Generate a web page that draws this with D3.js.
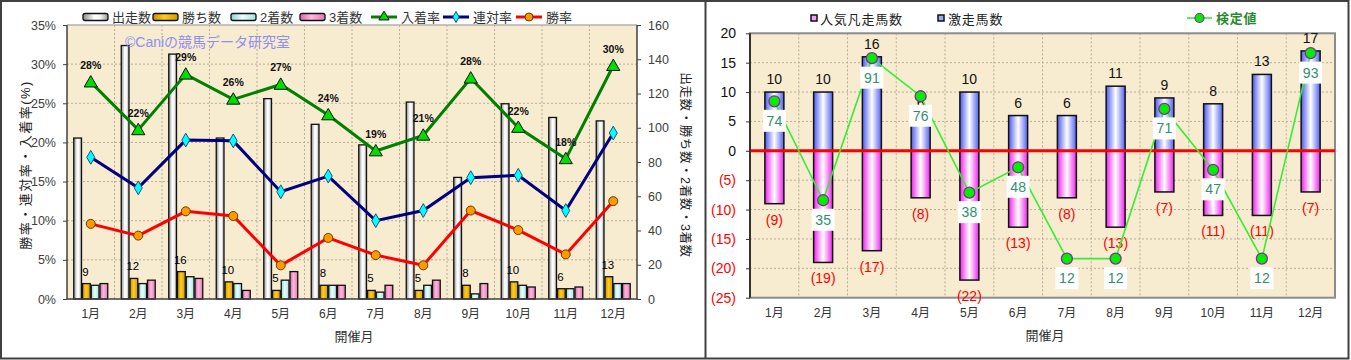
<!DOCTYPE html>
<html><head><meta charset="utf-8">
<script src="https://cdn.jsdelivr.net/npm/d3@7"></script>
<style>
html,body{margin:0;padding:0;background:#fff;}
svg text{font-family:"Liberation Sans","Noto Sans CJK JP",sans-serif;}
</style></head>
<body><svg id="c" width="1351" height="360"></svg>
<script>
// ---------- data ----------
const months = ["1月","2月","3月","4月","5月","6月","7月","8月","9月","10月","11月","12月"];
// left chart (counts, right axis)
const runs    = [94,148,143,94,117,102,90,115,71,114,106,104];
const wins    = [9,12,16,10,5,8,5,5,8,10,6,13];
const seconds = [8,9,13,9,11,8,4,8,3,8,6,9];
const thirds  = [9,11,12,5,16,8,8,11,9,7,7,9];
// left chart (rates %, left axis)
const placeRate  = [27.7,21.6,28.7,25.5,27.4,23.5,18.9,20.9,28.2,21.9,17.9,29.8];
const rentaiRate = [18.1,14.2,20.3,20.2,13.7,15.7,10.0,11.3,15.5,15.8,11.3,21.2];
const winRate    = [9.6,8.1,11.2,10.6,4.3,7.8,5.6,4.3,11.3,8.8,5.7,12.5];
const leftTicks  = [0,5,10,15,20,25,30,35];
const rightTicks = [0,20,40,60,80,100,120,140,160];
// right chart
const gekiso = [10,10,16,6,10,6,6,11,9,8,13,17];   // 激走馬数
const bonso  = [9,19,17,8,22,13,8,13,7,11,11,7];   // 人気凡走馬数
const kentei = [74,35,91,76,38,48,12,12,71,47,12,93]; // 検定値
const r2Ticks = [-25,-20,-15,-10,-5,0,5,10,15,20];

// ---------- setup ----------
const svg = d3.select("#c");
const defs = svg.append("defs");
function hGrad(id, stops){
  const g = defs.append("linearGradient").attr("id",id).attr("x1","0%").attr("x2","100%").attr("y1","0%").attr("y2","0%");
  stops.forEach(s=>g.append("stop").attr("offset",s[0]).attr("stop-color",s[1]));
}
hGrad("gRuns",[["0%","#8a8a8a"],["45%","#ffffff"],["70%","#f4f4f4"],["100%","#9a9a9a"]]);
hGrad("gWins",[["0%","#c89000"],["45%","#ffcc22"],["100%","#d09a00"]]);
hGrad("g2nd",[["0%","#90d0d0"],["45%","#e8ffff"],["100%","#a8e0e0"]]);
hGrad("g3rd",[["0%","#d86aa8"],["45%","#ffb8dc"],["100%","#e07ab4"]]);
hGrad("gBlue",[["0%","#4a58f0"],["50%","#ffffff"],["100%","#5060f0"]]);
hGrad("gPink",[["0%","#ee22ee"],["50%","#ffffff"],["100%","#ee22ee"]]);

const bg = "#f7ebd0";
const gridCol = "#b8ae98";
const jp = '"Noto Sans CJK JP",sans-serif';

// frames
svg.append("rect").attr("x",1).attr("y",1).attr("width",1347.5).attr("height",357.5)
  .attr("fill","none").attr("stroke","#404040").attr("stroke-width",2);
svg.append("line").attr("x1",705.5).attr("x2",705.5).attr("y1",1).attr("y2",359)
  .attr("stroke","#404040").attr("stroke-width",2);

// ================= LEFT CHART =================
const L = {x0:67,x1:637,y0:25,y1:299};
const xL = d3.scaleBand().domain(months).range([L.x0,L.x1]);
const yRate = d3.scaleLinear().domain([0,35]).range([L.y1,L.y0]);
const yCnt = d3.scaleLinear().domain([0,160]).range([L.y1,L.y0]);
const gL = svg.append("g");
gL.append("rect").attr("x",L.x0).attr("y",L.y0).attr("width",L.x1-L.x0).attr("height",L.y1-L.y0).attr("fill",bg);
// grid
gL.selectAll(".hg").data(leftTicks.slice(1,-1)).join("line")
  .attr("x1",L.x0).attr("x2",L.x1).attr("y1",d=>yRate(d)).attr("y2",d=>yRate(d))
  .attr("stroke",gridCol).attr("stroke-dasharray","2,2");
gL.selectAll(".vg").data(months.slice(1)).join("line")
  .attr("x1",d=>xL(d)).attr("x2",d=>xL(d)).attr("y1",L.y0).attr("y2",L.y1)
  .attr("stroke",gridCol).attr("stroke-dasharray","2,2");
gL.append("line").attr("x1",L.x0).attr("x2",L.x1).attr("y1",L.y0).attr("y2",L.y0).attr("stroke","#b0b0b0").attr("stroke-width",1.5);
// bars
const sub = d3.scaleBand().domain(["runs","wins","2nd","3rd"]).range([-17.5,17.5]);
const barSeries = [["runs",runs,"url(#gRuns)"],["wins",wins,"url(#gWins)"],["2nd",seconds,"url(#g2nd)"],["3rd",thirds,"url(#g3rd)"]];
barSeries.forEach(([k,arr,fill])=>{
  gL.append("g").selectAll("rect").data(arr).join("rect")
    .attr("x",(d,i)=>xL(months[i])+xL.bandwidth()/2+sub(k)+0.5)
    .attr("width",sub.bandwidth()-1)
    .attr("y",d=>yCnt(d)).attr("height",d=>L.y1-yCnt(d))
    .attr("fill",fill).attr("stroke","#111").attr("stroke-width",1.3);
});
// win count labels
gL.append("g").selectAll("text").data(wins).join("text")
  .attr("x",(d,i)=>xL(months[i])+xL.bandwidth()/2+sub("wins")+sub.bandwidth()/2-1)
  .attr("y",d=>yCnt(d)-8).attr("text-anchor","middle")
  .attr("font-size",11.5).attr("fill","#000").text(d=>d);
// axes lines
gL.append("line").attr("x1",L.x0).attr("x2",L.x0).attr("y1",L.y0).attr("y2",L.y1).attr("stroke","#404040").attr("stroke-width",1.5);
gL.append("line").attr("x1",L.x1).attr("x2",L.x1).attr("y1",L.y0).attr("y2",L.y1).attr("stroke","#404040").attr("stroke-width",1.5);
gL.append("line").attr("x1",L.x0).attr("x2",L.x1).attr("y1",L.y1).attr("y2",L.y1).attr("stroke","#404040").attr("stroke-width",1.5);
// ticks
const axLeft = d3.axisLeft(yRate).tickValues(leftTicks).tickSize(4).tickPadding(7).tickFormat(d=>d+"%");
const axRight = d3.axisRight(yCnt).tickValues(rightTicks).tickSize(4).tickPadding(7);
const ga = gL.append("g").attr("transform",`translate(${L.x0},0)`).call(axLeft);
const gb = gL.append("g").attr("transform",`translate(${L.x1},0)`).call(axRight);
const gx = gL.append("g").attr("transform",`translate(0,${L.y1})`).call(d3.axisBottom(xL).tickSize(0).tickPadding(10));
[ga,gb,gx].forEach(g=>{
  g.select(".domain").remove();
  g.selectAll(".tick line").attr("stroke","#404040");
  g.selectAll("text").attr("font-size",12.5).attr("fill","#404040").attr("font-family",'"Liberation Sans","Noto Sans CJK JP",sans-serif');
});
gx.selectAll("text").attr("font-size",12).attr("fill","#333").attr("font-family",jp);
// lines
const lineGen = arr => d3.line().x((d,i)=>xL(months[i])+xL.bandwidth()/2).y(d=>yRate(d))(arr);
gL.append("path").attr("d",lineGen(placeRate)).attr("fill","none").attr("stroke","#008000").attr("stroke-width",3);
gL.append("path").attr("d",lineGen(rentaiRate)).attr("fill","none").attr("stroke","#000080").attr("stroke-width",3);
gL.append("path").attr("d",lineGen(winRate)).attr("fill","none").attr("stroke","#ff0000").attr("stroke-width",3);
const tri = d3.symbol().type(d3.symbolTriangle).size(75);
const dia = d3.symbol().type(d3.symbolDiamond).size(55);
gL.append("g").selectAll("path").data(placeRate).join("path").attr("d",tri)
  .attr("transform",(d,i)=>`translate(${xL(months[i])+xL.bandwidth()/2},${yRate(d)+1})`)
  .attr("fill","#00dd00").attr("stroke","#111").attr("stroke-width",1);
gL.append("g").selectAll("path").data(rentaiRate).join("path").attr("d",dia)
  .attr("transform",(d,i)=>`translate(${xL(months[i])+xL.bandwidth()/2},${yRate(d)})`)
  .attr("fill","#00ffff").attr("stroke","#205080").attr("stroke-width",1);
gL.append("g").selectAll("circle").data(winRate).join("circle")
  .attr("cx",(d,i)=>xL(months[i])+xL.bandwidth()/2).attr("cy",d=>yRate(d)).attr("r",4.5)
  .attr("fill","#ff9900").attr("stroke","#6a3a00").attr("stroke-width",1);
gL.append("g").selectAll("text").data(placeRate).join("text")
  .attr("x",(d,i)=>xL(months[i])+xL.bandwidth()/2).attr("y",d=>yRate(d)-13)
  .attr("text-anchor","middle").attr("font-size",10.5).attr("font-weight","bold").attr("fill","#111")
  .text(d=>Math.round(d)+"%");
// watermark
gL.append("text").attr("x",125).attr("y",47).attr("font-size",14).attr("fill","#8f8ff0")
  .attr("font-family",jp).text("©Caniの競馬データ研究室");
// axis titles
gL.append("text").attr("transform","translate(30,165) rotate(-90)").attr("text-anchor","middle")
  .attr("font-size",13).attr("letter-spacing",1.5).attr("fill","#222").attr("font-family",jp).text("勝率・連対率・入着率(%)");
gL.append("text").attr("transform","translate(681,165) rotate(90)").attr("text-anchor","middle")
  .attr("font-size",12.5).attr("letter-spacing",0.6).attr("fill","#222").attr("font-family",jp).text("出走数・勝ち数・2着数・3着数");
gL.append("text").attr("x",354).attr("y",341).attr("text-anchor","middle")
  .attr("font-size",13).attr("fill","#333").attr("font-family",jp).text("開催月");
// legend
const legL = [
  {t:"出走数",x:83,type:"bar",fill:"url(#gRuns)"},
  {t:"勝ち数",x:153,type:"bar",fill:"url(#gWins)"},
  {t:"2着数",x:231,type:"bar",fill:"url(#g2nd)"},
  {t:"3着数",x:300,type:"bar",fill:"url(#g3rd)"},
  {t:"入着率",x:371,type:"line",col:"#008000",m:"tri"},
  {t:"連対率",x:443,type:"line",col:"#000080",m:"dia"},
  {t:"勝率",x:516,type:"line",col:"#ff0000",m:"cir"}];
const lg = gL.append("g");
legL.forEach(d=>{
  const ly = 17;
  if(d.type==="bar"){
    lg.append("rect").attr("x",d.x).attr("y",ly-3.5).attr("width",25).attr("height",7).attr("rx",2)
      .attr("fill",d.fill).attr("stroke","#111").attr("stroke-width",1.3);
  } else {
    lg.append("line").attr("x1",d.x).attr("x2",d.x+26).attr("y1",ly).attr("y2",ly).attr("stroke",d.col).attr("stroke-width",3);
    if(d.m==="tri") lg.append("path").attr("d",d3.symbol().type(d3.symbolTriangle).size(45)).attr("transform",`translate(${d.x+13},${ly})`).attr("fill","#00dd00").attr("stroke","#111");
    if(d.m==="dia") lg.append("path").attr("d",d3.symbol().type(d3.symbolDiamond).size(35)).attr("transform",`translate(${d.x+13},${ly})`).attr("fill","#00ffff").attr("stroke","#205080");
    if(d.m==="cir") lg.append("circle").attr("cx",d.x+13).attr("cy",ly).attr("r",4).attr("fill","#ff9900").attr("stroke","#6a3a00");
  }
  lg.append("text").attr("x",d.x+(d.type==="bar"?29:30)).attr("y",ly+4.5).attr("font-size",13).attr("fill","#333")
    .attr("font-family",jp).text(d.t);
});

// ================= RIGHT CHART =================
const R = {x0:750,x1:1335,y0:33.3,y1:297.7};
const xR = d3.scaleBand().domain(months).range([R.x0,R.x1]);
const yR = d3.scaleLinear().domain([-25,20]).range([R.y1,R.y0]);
const yK = d3.scaleLinear().domain([-3.4,100.8]).range([R.y1,R.y0]);
const gR = svg.append("g");
gR.append("rect").attr("x",R.x0).attr("y",R.y0).attr("width",R.x1-R.x0).attr("height",R.y1-R.y0).attr("fill",bg);
gR.append("g").selectAll("line").data(r2Ticks.slice(1,-1)).join("line")
  .attr("x1",R.x0).attr("x2",R.x1).attr("y1",d=>yR(d)).attr("y2",d=>yR(d))
  .attr("stroke",gridCol).attr("stroke-dasharray","2,2");
gR.append("g").selectAll("line").data(months.slice(1)).join("line")
  .attr("x1",d=>xR(d)).attr("x2",d=>xR(d)).attr("y1",R.y0).attr("y2",R.y1)
  .attr("stroke",gridCol).attr("stroke-dasharray","2,2");
gR.append("rect").attr("x",R.x0).attr("y",R.y0).attr("width",R.x1-R.x0).attr("height",R.y1-R.y0)
  .attr("fill","none").attr("stroke","#8c8c8c").attr("stroke-width",2);
const bw = 19;
const cx = m => xR(m)+xR.bandwidth()/2;
gR.append("g").selectAll("rect").data(gekiso).join("rect")
  .attr("x",(d,i)=>cx(months[i])-bw/2).attr("width",bw)
  .attr("y",d=>yR(d)).attr("height",d=>yR(0)-yR(d))
  .attr("fill","url(#gBlue)").attr("stroke","#111").attr("stroke-width",1.5);
gR.append("g").selectAll("rect").data(bonso).join("rect")
  .attr("x",(d,i)=>cx(months[i])-bw/2).attr("width",bw)
  .attr("y",yR(0)).attr("height",d=>yR(-d)-yR(0))
  .attr("fill","url(#gPink)").attr("stroke","#111").attr("stroke-width",1.5);
gR.append("g").selectAll("text").data(gekiso).join("text")
  .attr("x",(d,i)=>cx(months[i])).attr("y",d=>yR(d)-8).attr("text-anchor","middle")
  .attr("font-size",14).attr("fill","#111").text(d=>d);
gR.append("g").selectAll("text").data(bonso).join("text")
  .attr("x",(d,i)=>cx(months[i])).attr("y",d=>yR(-d)+21).attr("text-anchor","middle")
  .attr("font-size",14).attr("fill","#ff0000").text(d=>"("+d+")");
// zero line
gR.append("line").attr("x1",R.x0).attr("x2",R.x1).attr("y1",yR(0)).attr("y2",yR(0)).attr("stroke","#ff0000").attr("stroke-width",3);
// axis
gR.append("line").attr("x1",R.x0).attr("x2",R.x0).attr("y1",R.y0).attr("y2",R.y1).attr("stroke","#333").attr("stroke-width",2);
const ar = gR.append("g").attr("transform",`translate(${R.x0},0)`)
  .call(d3.axisLeft(yR).tickValues(r2Ticks).tickSize(4).tickPadding(10).tickFormat(d=>d<0?"("+(-d)+")":d));
ar.select(".domain").remove();
ar.selectAll(".tick line").attr("stroke","#333");
ar.selectAll("text").attr("font-size",14).attr("fill",d=>d<0?"#ff0000":"#111")
  .attr("font-family",'"Liberation Sans",sans-serif');
const axR = gR.append("g").attr("transform",`translate(0,${R.y1})`).call(d3.axisBottom(xR).tickSize(0).tickPadding(11));
axR.select(".domain").remove();
axR.selectAll("text").attr("font-size",12).attr("fill","#333").attr("font-family",jp);
gR.append("text").attr("x",1045).attr("y",340).attr("text-anchor","middle")
  .attr("font-size",13).attr("fill","#333").attr("font-family",jp).text("開催月");
// kentei line
const kLine = d3.line().x((d,i)=>cx(months[i])).y(d=>yK(d));
gR.append("path").attr("d",kLine(kentei)).attr("fill","none").attr("stroke","#33ee33").attr("stroke-width",1.6);
gR.append("g").selectAll("circle").data(kentei).join("circle")
  .attr("cx",(d,i)=>cx(months[i])).attr("cy",d=>yK(d)).attr("r",5.5)
  .attr("fill","#00ee00").attr("stroke","#8a2a9a").attr("stroke-width",1.3);
const kl = gR.append("g").selectAll("g").data(kentei).join("g")
  .attr("transform",(d,i)=>`translate(${cx(months[i])},${yK(d)+19.5})`);
kl.append("rect").attr("x",-11.5).attr("y",-11).attr("width",23).attr("height",22).attr("fill","#fff");
kl.append("text").attr("y",5).attr("text-anchor","middle").attr("font-size",14).attr("fill","#2f8f6f").text(d=>d);
// legend
const lr = gR.append("g");
lr.append("rect").attr("x",811).attr("y",15).attr("width",6).attr("height",6).attr("fill","#ff99ff").attr("stroke","#111").attr("stroke-width",1.5);
lr.append("text").attr("x",820).attr("y",23.5).attr("font-size",13).attr("fill","#222").attr("letter-spacing",0.8)
  .attr("font-family",jp).text("人気凡走馬数");
lr.append("rect").attr("x",938).attr("y",15).attr("width",6).attr("height",6).attr("fill","#9aa8ff").attr("stroke","#111").attr("stroke-width",1.5);
lr.append("text").attr("x",948).attr("y",23.5).attr("font-size",13).attr("fill","#222").attr("letter-spacing",0.8)
  .attr("font-family",jp).text("激走馬数");
lr.append("line").attr("x1",1187).attr("x2",1212).attr("y1",18).attr("y2",18).attr("stroke","#33ee33").attr("stroke-width",1.6);
lr.append("circle").attr("cx",1199.5).attr("cy",18).attr("r",4.5).attr("fill","#00ee00").attr("stroke","#8a2a9a").attr("stroke-width",1.2);
lr.append("text").attr("x",1216).attr("y",23).attr("font-size",13).attr("fill","#2a8a2a").attr("font-weight","bold").attr("letter-spacing",0.8)
  .attr("font-family",jp).text("検定値");
</script></body></html>
